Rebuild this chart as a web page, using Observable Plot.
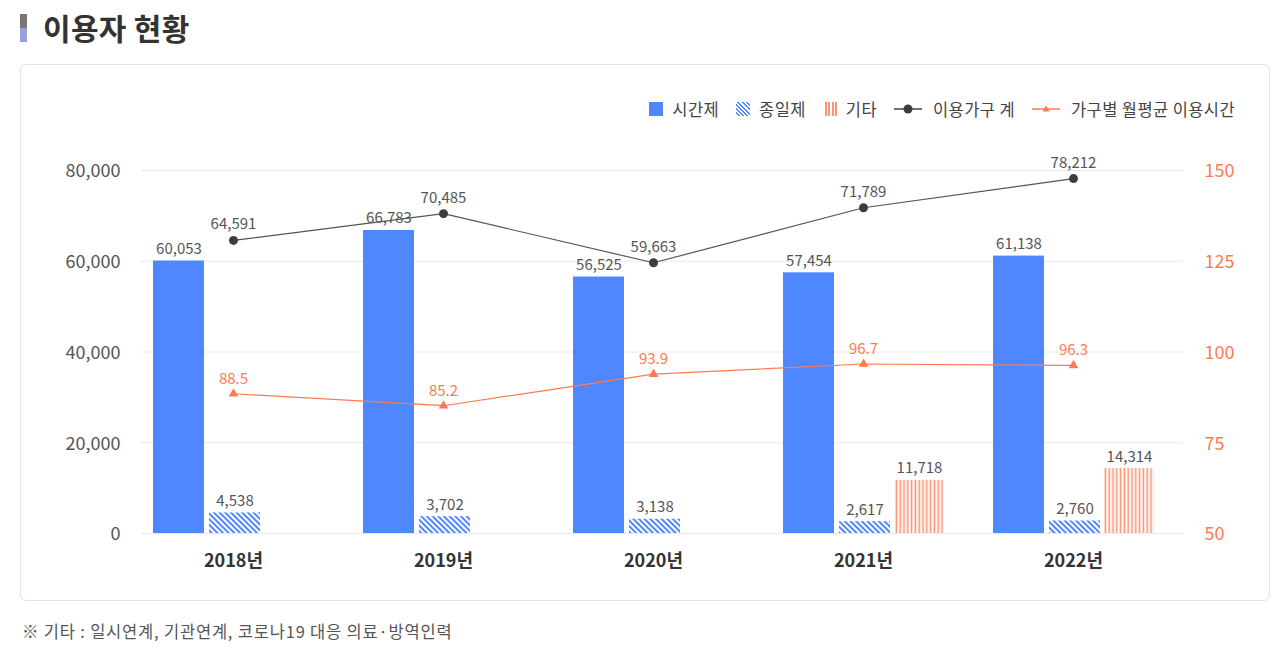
<!DOCTYPE html>
<html><head><meta charset="utf-8">
<script src="https://cdn.jsdelivr.net/npm/d3@7"></script>
<script src="https://cdn.jsdelivr.net/npm/@observablehq/plot@0.6"></script>
<style>
html,body{margin:0;padding:0;background:#fff}
body{width:1285px;height:658px;position:relative;overflow:hidden;font-family:"Noto Sans CJK KR","Noto Sans",sans-serif;color:#333}
.title{position:absolute;left:43px;top:6px;font-size:30px;font-weight:700;color:#333;line-height:42px;letter-spacing:0.3px}
.icon{position:absolute;left:20px;top:14px;width:7px;height:28px;background:linear-gradient(#777 0 50%,#97a0dc 50% 100%)}
.box{position:absolute;left:20px;top:64px;width:1250px;height:537px;border:1.5px solid #e3e3e3;border-radius:6px;box-sizing:border-box}
.legend{position:absolute;right:50px;top:97px;display:flex;align-items:center;font-size:16.5px;color:#444;line-height:24px;letter-spacing:0.4px}
.legend .item{display:flex;align-items:center;margin-left:17px}
.legend .item:first-child{margin-left:0}
.sw{display:inline-block;width:14px;height:14px;margin-right:9px}
.legend svg{margin-right:11px}
#chart{position:absolute;left:21px;top:140px}
.note{position:absolute;left:22px;top:620px;font-size:16.5px;color:#555;line-height:22px;letter-spacing:0.8px}
</style>
</head><body>
<div class="icon"></div>
<div class="title">이용자 현황</div>
<div class="box"></div>
<div class="legend">
  <span class="item"><i class="sw" style="background:#4f88fe"></i>시간제</span>
  <span class="item"><i class="sw" style="background:repeating-linear-gradient(45deg,#fff 0 1.5px,#4f88fe 1.5px 3px)"></i>종일제</span>
  <span class="item"><i class="sw" style="background:repeating-linear-gradient(90deg,#fff 0 1.6px,#ff9270 1.6px 3.6px)"></i>기타</span>
  <span class="item"><svg width="28" height="12"><line x1="0" x2="28" y1="6" y2="6" stroke="#444" stroke-width="1.5"/><circle cx="14" cy="6" r="4.5" fill="#3d3d3d"/></svg>이용가구 계</span>
  <span class="item"><svg width="28" height="12"><line x1="0" x2="28" y1="6" y2="6" stroke="#ff7a50" stroke-width="1.5"/><path d="M14,2.5 L17.5,8.5 L10.5,8.5 Z" fill="#ff7a50"/></svg>가구별 월평균 이용시간</span>
</div>
<div id="chart"></div>
<div class="note">※ 기타 : 일시연계, 기관연계, 코로나19 대응 의료·방역인력</div>
<script>
// ---- data ----
const years = ["2018년","2019년","2020년","2021년","2022년"];
const partTime = [60053,66783,56525,57454,61138];      // 시간제
const fullDay = [4538,3702,3138,2617,2760];            // 종일제
const other = [null,null,null,11718,14314];            // 기타
const households = [64591,70485,59663,71789,78212];    // 이용가구 계
const monthlyHours = [88.5,85.2,93.9,96.7,96.3];       // 가구별 월평균 이용시간
const leftTicks = [0,20000,40000,60000,80000];
const rightTicks = [50,75,100,125,150];

// right axis (50..150) mapped onto left scale (0..80000)
const r2l = v => (v - 50) * 800;
const l2r = v => v / 800 + 50;

const rows = years.map((y,i)=>({year:y, part:partTime[i], full:fullDay[i], other:other[i], hh:households[i], hours:monthlyHours[i]}));
const otherRows = rows.filter(d => d.other != null);
const fmt = d3.format(",");

const ORANGE = "#ff7a50";
const BLUE = "#4f88fe";
const LABEL = "#555";

const chart = Plot.plot({
  width: 1248,
  height: 450,
  marginTop: 30,
  marginBottom: 57,
  marginLeft: 120,
  marginRight: 86,
  style: {fontFamily: '"Noto Sans CJK KR","Noto Sans",sans-serif', background: "transparent", overflow: "visible"},
  x: {type: "band", domain: years, range: [107, 1157], padding: 0},
  y: {domain: [0, 80000]},
  marks: [
    Plot.ruleY(leftTicks, {stroke: "#e9e9e9", strokeWidth: 1.2}),
    Plot.axisY({anchor: "left", ticks: leftTicks, tickSize: 0, tickPadding: 21, tickFormat: fmt, fontSize: 18, fill: LABEL, dy: 1, label: null}),
    Plot.axisY({anchor: "right", ticks: rightTicks.map(r2l), tickSize: 0, tickPadding: 21, tickFormat: l2r, fontSize: 18, fill: ORANGE, dy: 1, label: null}),
    Plot.axisX({tickSize: 0, tickPadding: 21, fontSize: 18, fontWeight: "bold", fill: "#333", label: null}),
    // bars
    Plot.barY(rows, {x: "year", y: "part", fill: BLUE, insetLeft: 25, insetRight: 134}),
    Plot.barY(rows, {x: "year", y: "full", fill: "url(#hatch)", insetLeft: 81, insetRight: 78}),
    Plot.barY(otherRows, {x: "year", y: "other", fill: "url(#vstripe)", insetLeft: 136, insetRight: 24}),
    Plot.text(rows, {x: "year", y: "part", text: d => fmt(d.part), dx: -54.5, dy: -7, lineAnchor: "bottom", fontSize: 15, fill: LABEL}),
    Plot.text(rows, {x: "year", y: "full", text: d => fmt(d.full), dx: 1.5, dy: -7, lineAnchor: "bottom", fontSize: 15, fill: LABEL}),
    Plot.text(otherRows, {x: "year", y: "other", text: d => fmt(d.other), dx: 56, dy: -7, lineAnchor: "bottom", fontSize: 15, fill: LABEL}),
    // households line
    Plot.lineY(rows, {x: "year", y: "hh", stroke: "#555", strokeWidth: 1.2}),
    Plot.dot(rows, {x: "year", y: "hh", r: 4.5, fill: "#3d3d3d"}),
    Plot.text(rows, {x: "year", y: "hh", text: d => fmt(d.hh), dy: -11, lineAnchor: "bottom", fontSize: 15, fill: LABEL}),
    // monthly hours line (right axis)
    Plot.lineY(rows, {x: "year", y: d => r2l(d.hours), stroke: ORANGE, strokeWidth: 1.2}),
    Plot.dot(rows, {x: "year", y: d => r2l(d.hours), symbol: "triangle", r: 3.6, fill: ORANGE}),
    Plot.text(rows, {x: "year", y: d => r2l(d.hours), text: d => d.hours.toFixed(1), dy: -10, lineAnchor: "bottom", fontSize: 15, fill: ORANGE})
  ]
});

const ns = "http://www.w3.org/2000/svg";
const defs = document.createElementNS(ns, "defs");
defs.innerHTML = `
<pattern id="hatch" patternUnits="userSpaceOnUse" width="4" height="4" patternTransform="rotate(-45)">
  <rect width="4" height="4" fill="#fff"/><rect width="2" height="4" fill="${BLUE}"/>
</pattern>
<pattern id="vstripe" patternUnits="userSpaceOnUse" width="3.8" height="10">
  <rect width="3.8" height="10" fill="#fff"/><rect x="0.6" width="1.6" height="10" fill="#ff9270"/>
</pattern>`;
chart.insertBefore(defs, chart.firstChild);
document.getElementById("chart").appendChild(chart);
</script>
</body></html>
